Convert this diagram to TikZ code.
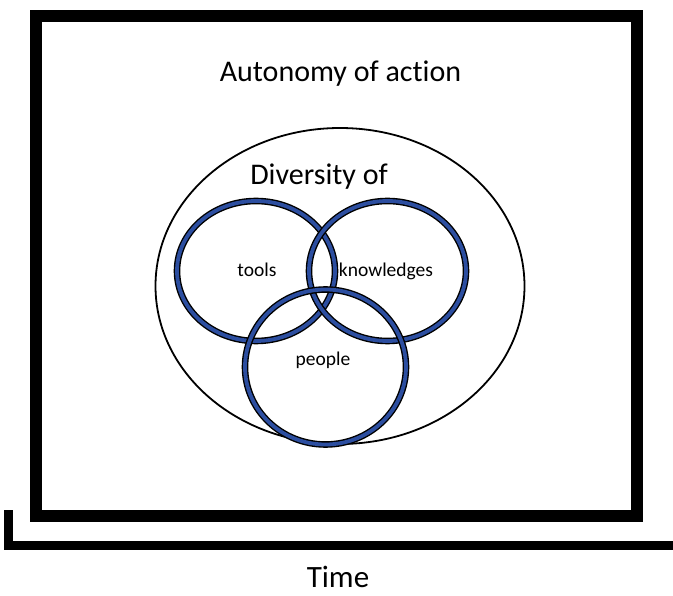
\documentclass[tikz,border=0pt]{standalone}
\usepackage{fontspec}
\setmainfont{Carlito}[Ligatures=NoCommon]
\usetikzlibrary{shapes.geometric}
\definecolor{ringblue}{RGB}{44,78,160}
\begin{document}
\begin{tikzpicture}[x=1pt,y=-1pt,
  frame/.style={line width=12pt},
  timeaxis/.style={line width=8.5pt},
  scopering/.style={ellipse, draw, line width=1.8pt, inner sep=0pt},
  venn/.style={ellipse, draw=black, line width=1.4pt, double=ringblue,
    double distance=3.8pt, inner sep=0pt},
  bigtext/.style={font=\fontsize{30}{36}\selectfont, anchor=base, inner sep=0pt},
  smalltext/.style={font=\fontsize{19.5}{23}\selectfont, anchor=base, inner sep=0pt}]
  \useasboundingbox (0,0) rectangle (673,596);
  \fill[white] (0,0) rectangle (673,596);

  % outer frame and time axis
  \draw[frame] (36,16) rectangle (637,516);
  \coordinate (axtop) at (8.5,510);
  \coordinate (axcorner) at (8.5,545.5);
  \coordinate (axend) at (673,545.5);
  \draw[timeaxis] (axtop) -- (axcorner) -- (axend);

  % autonomy ellipse
  \node[scopering, minimum width=369pt, minimum height=316pt] (autonomy) at (340,286) {};

  % three overlapping rings
  \node[venn, minimum width=158pt, minimum height=140pt] (tools) at (256,271) {};
  \node[venn, minimum width=157pt, minimum height=140pt] (knowledge) at (387.5,271) {};
  \node[venn, minimum width=161pt, minimum height=155pt] (people) at (325.5,367) {};

  % labels
  \node[bigtext] (autolabel) at (340.5,82) {Autonomy of action};
  \node[bigtext] (divlabel) at (319,185) {Diversity of};
  \node[smalltext] (toolslabel) at (257,277) {tools};
  \node[smalltext] (knowlabel) at (386,277) {knowledges};
  \node[smalltext] (peoplelabel) at (323,366) {people};
  \node[font=\fontsize{31}{37}\selectfont, anchor=base, inner sep=0pt] (timelabel) at (338,587) {Time};
\end{tikzpicture}
\end{document}
